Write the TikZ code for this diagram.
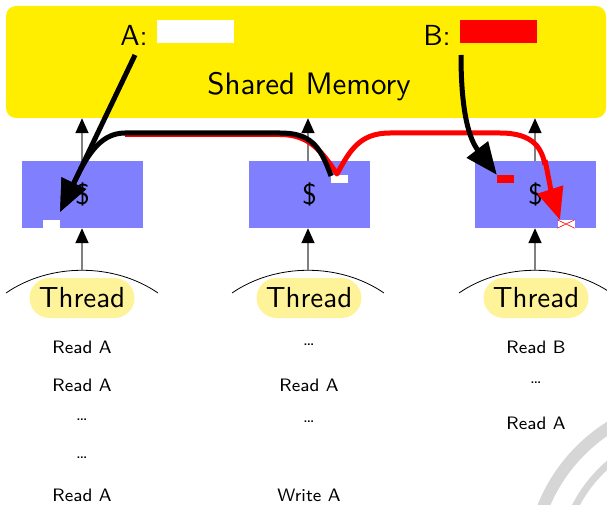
\documentclass[tikz,border=0pt]{standalone}
\usepackage{fontspec}
\setsansfont{lmsans10-regular.otf}
\newfontfamily\notesans{lmsans8-regular.otf}
\usetikzlibrary{arrows.meta}
\definecolor{memyellow}{HTML}{FFEE00}
\definecolor{cacheblue}{HTML}{8080FF}
\definecolor{threadyellow}{HTML}{FFF39A}
\definecolor{sealgray}{HTML}{D6D6D6}
\begin{document}
\begin{tikzpicture}[x=1pt,y=-1pt,
  bigtext/.style={font=\sffamily\fontsize{29}{34}\selectfont, inner sep=0pt},
  smalltext/.style={font=\notesans\fontsize{18}{22}\selectfont, inner sep=0pt},
  cachebox/.style={fill=cacheblue, minimum width=121pt, minimum height=67pt, inner sep=0pt,
    font=\sffamily\fontsize{29}{34}\selectfont},
  valbox/.style={minimum width=77pt, minimum height=23pt, inner sep=0pt},
  linebox/.style={minimum width=17pt, minimum height=8pt, inner sep=0pt},
  threadnode/.style={fill=threadyellow, rounded corners=20pt, minimum width=105pt,
    minimum height=40pt, inner sep=0pt, font=\sffamily\fontsize{29}{34}\selectfont},
  busarrow/.style={draw=gray, line width=1.6pt, -{Triangle[length=15pt,width=13pt,color=black]}},
  bigarrow/.style={line width=5pt, -{Triangle[length=32pt,width=26pt]}},
  threadarc/.style={draw=black, line width=0.8pt}]

\useasboundingbox (0,0) rectangle (607,505);

% faint seal in the lower right corner
\begin{scope}
  \clip (0,0) rectangle (607,505);
  \draw[sealgray, line width=12pt] (700,570) circle[radius=169pt];
  \draw[sealgray, line width=7pt] (700,570) circle[radius=140pt];
\end{scope}

% shared memory
\node[fill=memyellow, rounded corners=10pt, minimum width=600pt, minimum height=112pt,
  inner sep=0pt] (mem) at (306,62) {};
\node[bigtext, font=\sffamily\fontsize{31}{36}\selectfont] (memlabel) at (309,87) {Shared Memory};
\node[bigtext] (alabel) at (134,35) {A:};
\node[valbox, fill=white] (aval) at (195.5,31.5) {};
\node[bigtext] (blabel) at (437,35) {B:};
\node[valbox, fill=red] (bval) at (498.5,31.5) {};

% caches
\node[cachebox] (c1) at (82.5,194.5) {\$};
\node[cachebox] (c2) at (309.5,194.5) {\$};
\node[cachebox] (c3) at (535.5,194.5) {\$};

% cache lines
\node[linebox, fill=white] (s1) at (51.5,224) {};
\node[linebox, fill=white] (s2) at (339,179) {};
\node[linebox, fill=red] (s3) at (505.5,179) {};
\node[linebox, fill=white] (s4) at (566,224) {};
\draw[red, line width=0.6pt] (s4.north west) -- (s4.south east)
  (s4.north east) -- (s4.south west);

% threads
\node[threadnode] (t1) at (82,298) {Thread};
\node[threadnode] (t2) at (309,298) {Thread};
\node[threadnode] (t3) at (536,298) {Thread};

\foreach \cx/\n in {82/1,308/2,535/3}{
  \coordinate (top\n) at (\cx,270);
  \draw[threadarc] (\cx-76,293) .. controls (\cx-32,262.7) and (\cx+32,262.7) .. (\cx+76,293);
  \draw[busarrow] (top\n) -- (top\n |- c\n.south);
  \draw[busarrow] (top\n |- c\n.north) -- (top\n |- mem.south);
}

% instruction streams
\node[smalltext] (r11) at (82,347) {Read A};
\node[smalltext] (r12) at (82,385) {Read A};
\node[smalltext] (r13) at (82,420) {\ldots};
\node[smalltext] (r14) at (82,458) {\ldots};
\node[smalltext] (r15) at (82,495.5) {Read A};
\node[smalltext] (r21) at (309,345) {\ldots};
\node[smalltext] (r22) at (309,385) {Read A};
\node[smalltext] (r23) at (309,422) {\ldots};
\node[smalltext] (r24) at (309,495.5) {Write A};
\node[smalltext] (r31) at (536,347) {Read B};
\node[smalltext] (r32) at (536,383) {\ldots};
\node[smalltext] (r33) at (536,423) {Read A};

% data movement
\coordinate (astart) at (135,55);
\coordinate (bstart) at (461,55);
\coordinate (tipA) at (60,212);
\coordinate (vpt) at (337,174);
\coordinate (wpt) at (331,176);
\coordinate (tipX) at (560,220);

\draw[line width=5pt, red, line join=round]
  (125,134.5) -- (280,134.5) .. controls (310,134.5) and (322,152) .. (vpt)
  .. controls (350,150) and (360,133) .. (390,133) -- (500,133)
  .. controls (535,133) and (542,150) .. (545,165);
\draw[bigarrow, red] (545,160) .. controls (548,175) and (552,195) .. (tipX);
\draw[bigarrow, black] (wpt) .. controls (320,145) and (310,133) .. (280,133)
  -- (125,133) .. controls (98,133) and (85,160) .. (tipA);
\draw[bigarrow, black] (astart) -- (tipA);
\draw[bigarrow, black] (bstart) .. controls (461,115) and (470,140) .. (s3.north west);
\end{tikzpicture}
\end{document}
